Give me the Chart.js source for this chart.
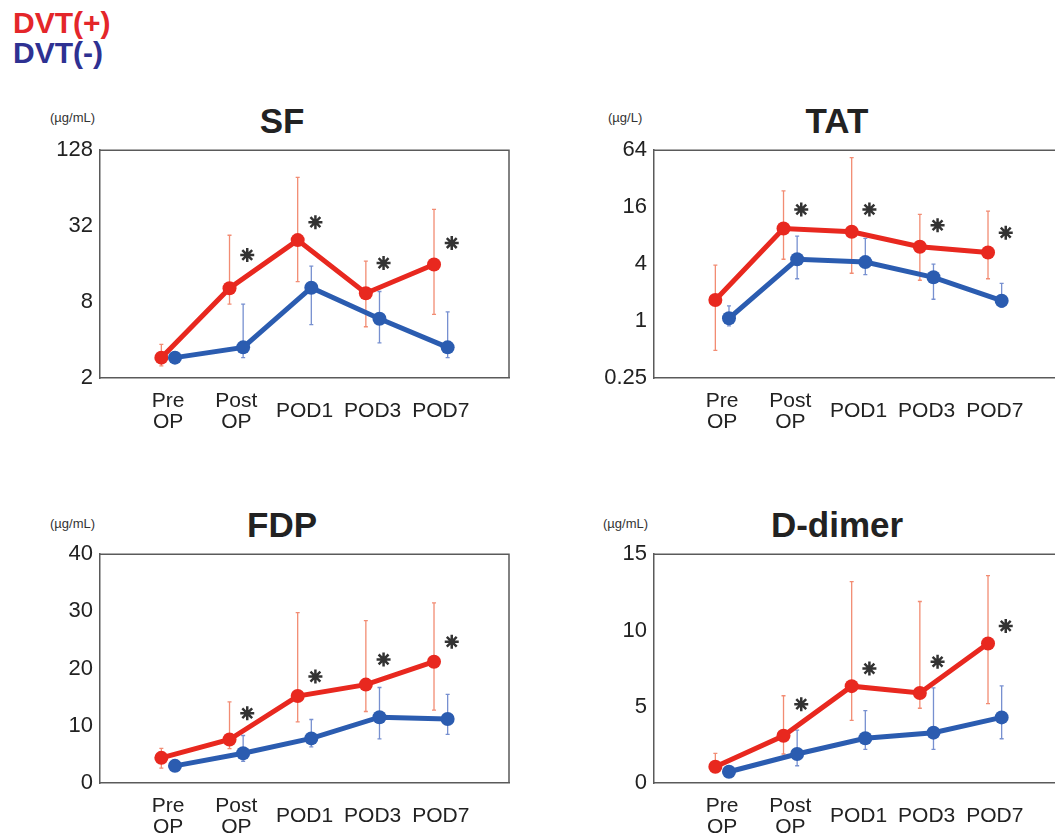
<!DOCTYPE html>
<html><head><meta charset="utf-8">
<script src="https://cdn.jsdelivr.net/npm/chart.js@4.4.1/dist/chart.umd.min.js"></script>
<style>
html,body{margin:0;padding:0;width:1055px;height:835px;overflow:hidden;background:#fff;font-family:"Liberation Sans",Arial,sans-serif;}
canvas{position:absolute;}
.t{position:absolute;font-weight:bold;font-size:35px;color:#222;transform:translate(-50%,-50%);white-space:nowrap;line-height:1;}
.u{position:absolute;font-size:13px;color:#333;transform:translateY(-50%);white-space:nowrap;line-height:1;}
.lg{position:absolute;font-weight:bold;font-size:30px;left:13px;transform:translateY(-50%);line-height:1;}
</style></head><body>
<div class="lg" style="top:23px;color:#e4262a">DVT(+)</div>
<div class="lg" style="top:53px;color:#2e3192">DVT(-)</div>

<div class="t" style="left:282px;top:120px">SF</div>
<div class="t" style="left:837px;top:120px">TAT</div>
<div class="t" style="left:282px;top:524px">FDP</div>
<div class="t" style="left:837px;top:524px">D-dimer</div>

<div class="u" style="left:50px;top:117px">(µg/mL)</div>
<div class="u" style="left:608px;top:117px">(µg/L)</div>
<div class="u" style="left:50px;top:523px">(µg/mL)</div>
<div class="u" style="left:603px;top:523px">(µg/mL)</div>

<canvas id="cSF" width="520" height="310" style="left:0px;top:130px"></canvas>
<canvas id="cTAT" width="520" height="310" style="left:554px;top:130px"></canvas>
<canvas id="cFDP" width="520" height="311" style="left:0px;top:534px"></canvas>
<canvas id="cDD" width="520" height="311" style="left:554px;top:534px"></canvas>

<script>
// ---- categories ----
const categories = [['Pre','OP'], ['Post','OP'], 'POD1', 'POD3', 'POD7'];

// ---- SF (µg/mL, log scale) ----
const sfTicks  = [2, 8, 32, 128];
const sfPos    = [2.9, 10.3, 24.8, 9.4, 15.9];
const sfPosHi  = [3.7, 27.1, 77.8, 16.9, 43.4];
const sfPosLo  = [2.5, 7.7, 11.6, 5.1, 6.4];
const sfNeg    = [2.9, 3.5, 10.4, 5.9, 3.5];
const sfNegHi  = [3.1, 7.7, 15.4, 9.7, 6.7];
const sfNegLo  = [2.7, 2.9, 5.3, 3.8, 2.9];
const sfStar   = [null, 18.9, 34.4, 16.3, 23.5];

// ---- TAT (µg/L, log scale) ----
const tatTicks = [0.25, 1, 4, 16, 64];
const tatPos   = [1.67, 9.5, 8.8, 6.1, 5.3];
const tatPosHi = [3.9, 23.8, 53.5, 13.4, 14.5];
const tatPosLo = [0.49, 4.5, 3.2, 2.7, 2.8];
const tatNeg   = [1.07, 4.5, 4.2, 2.9, 1.64];
const tatNegHi = [1.45, 7.9, 7.5, 4.0, 2.5];
const tatNegLo = [0.89, 2.8, 3.1, 1.7, 1.4];
const tatStar  = [null, 15.1, 15.1, 10.3, 8.6];

// ---- FDP (µg/mL) ----
const fdpTicks = [0, 10, 20, 30, 40];
const fdpPos   = [4.4, 7.6, 15.2, 17.2, 21.2];
const fdpPosHi = [6.05, 14.2, 29.8, 28.4, 31.5];
const fdpPosLo = [2.6, 6.0, 10.7, 12.5, 12.75];
const fdpNeg   = [3.0, 5.2, 7.8, 11.5, 11.2];
const fdpNegHi = [3.3, 8.3, 11.1, 16.7, 15.5];
const fdpNegLo = [2.7, 3.8, 6.3, 7.7, 8.5];
const fdpStar  = [null, 12.2, 18.6, 21.6, 24.7];

// ---- D-dimer (µg/mL) ----
const ddTicks  = [0, 5, 10, 15];
const ddPos    = [1.07, 3.1, 6.35, 5.9, 9.15];
const ddPosHi  = [1.94, 5.72, 13.2, 11.9, 13.6];
const ddPosLo  = [0.7, 1.9, 4.1, 4.9, 5.2];
const ddNeg    = [0.74, 1.9, 2.93, 3.3, 4.3];
const ddNegHi  = [0.9, 3.47, 4.74, 6.24, 6.37];
const ddNegLo  = [0.6, 1.13, 2.2, 2.2, 2.9];
const ddStar   = [null, 5.17, 7.5, 7.95, 10.3];

const RED = '#e8281f', BLUE = '#2b5cb0';
const RED_ERR = 'rgba(240,120,90,0.85)', BLUE_ERR = 'rgba(95,125,200,0.85)';
const AXIS = '#5a5a5a';

const errorBars = {
  id: 'errorBars',
  beforeDatasetsDraw(chart) {
    const ctx = chart.ctx, xs = chart.scales.x, ys = chart.scales.y;
    chart.data.datasets.forEach(ds => {
      if (!ds.errLow) return;
      ctx.save();
      ctx.strokeStyle = ds.errColor;
      ctx.lineWidth = 1.3;
      ds.data.forEach((p, i) => {
        const x = xs.getPixelForValue(p.x);
        const y1 = ys.getPixelForValue(ds.errLow[i]);
        const y2 = ys.getPixelForValue(ds.errHigh[i]);
        ctx.beginPath();
        ctx.moveTo(x, y1); ctx.lineTo(x, y2);
        ctx.moveTo(x - 2, y1); ctx.lineTo(x + 2, y1);
        ctx.moveTo(x - 2, y2); ctx.lineTo(x + 2, y2);
        ctx.stroke();
      });
      ctx.restore();
    });
  }
};
const frame = {
  id: 'frame',
  beforeDatasetsDraw(chart) {
    const {left, right, top, bottom} = chart.chartArea, ctx = chart.ctx;
    ctx.save();
    ctx.strokeStyle = AXIS; ctx.lineWidth = 1.5;
    ctx.beginPath();
    ctx.moveTo(left, top); ctx.lineTo(right, top); ctx.lineTo(right, bottom);
    ctx.stroke();
    ctx.restore();
  }
};

function pts(vals, off) {
  return vals.map((v, i) => ({x: i + 1 + off, y: v}));
}

function makeChart(id, logScale, ticks, pos, posHi, posLo, neg, negHi, negLo, star) {
  const tickFont = {family: '"Liberation Sans", Arial, sans-serif', size: 21};
  new Chart(document.getElementById(id), {
    type: 'line',
    data: {
      datasets: [
        {label: 'star', data: pts(star, 0.16).filter(p => p.y !== null), showLine: false,
         pointStyle: 'star', pointRadius: 7, borderColor: '#333', pointBorderWidth: 2.5,
         backgroundColor: '#333', order: 0},
        {label: 'DVT(-)', data: pts(neg, 0.1), borderColor: BLUE, backgroundColor: BLUE,
         borderWidth: 5, pointRadius: 7, pointBorderWidth: 0, pointBackgroundColor: BLUE,
         errLow: negLo, errHigh: negHi, errColor: BLUE_ERR, order: 1, tension: 0},
        {label: 'DVT(+)', data: pts(pos, -0.1), borderColor: RED, backgroundColor: RED,
         borderWidth: 5, pointRadius: 7, pointBorderWidth: 0, pointBackgroundColor: RED,
         errLow: posLo, errHigh: posHi, errColor: RED_ERR, order: 2, tension: 0}
      ]
    },
    options: {
      responsive: false,
      animation: false,
      events: [],
      layout: {padding: {top: 20, right: 11, left: 0, bottom: 0}},
      plugins: {legend: {display: false}, tooltip: {enabled: false}},
      scales: {
        x: {
          type: 'linear', min: 0, max: 6,
          afterBuildTicks: s => { s.ticks = categories.map((c, i) => ({value: i + 1})); },
          afterFit: s => { s.height = 62; },
          grid: {display: false, drawTicks: false},
          border: {display: true, color: AXIS, width: 1.5},
          ticks: {
            callback: v => categories[Math.round(v) - 1],
            autoSkip: false, maxRotation: 0, minRotation: 0,
            padding: 23, crossAlign: 'center', color: '#222',
            font: Object.assign({lineHeight: 1.0}, tickFont)
          }
        },
        y: {
          type: logScale ? 'logarithmic' : 'linear',
          min: ticks[0], max: ticks[ticks.length - 1],
          afterBuildTicks: s => { s.ticks = ticks.map(v => ({value: v})); },
          afterFit: s => { s.width = 100; },
          grid: {display: false, drawTicks: false},
          border: {display: true, color: AXIS, width: 1.5},
          ticks: {
            callback: v => String(v),
            autoSkip: false, padding: 7, color: '#222',
            font: Object.assign({}, tickFont, {size: 22})
          }
        }
      }
    },
    plugins: [frame, errorBars]
  });
}

makeChart('cSF', true, sfTicks, sfPos, sfPosHi, sfPosLo, sfNeg, sfNegHi, sfNegLo, sfStar);
makeChart('cTAT', true, tatTicks, tatPos, tatPosHi, tatPosLo, tatNeg, tatNegHi, tatNegLo, tatStar);
makeChart('cFDP', false, fdpTicks, fdpPos, fdpPosHi, fdpPosLo, fdpNeg, fdpNegHi, fdpNegLo, fdpStar);
makeChart('cDD', false, ddTicks, ddPos, ddPosHi, ddPosLo, ddNeg, ddNegHi, ddNegLo, ddStar);
</script>
</body></html>
